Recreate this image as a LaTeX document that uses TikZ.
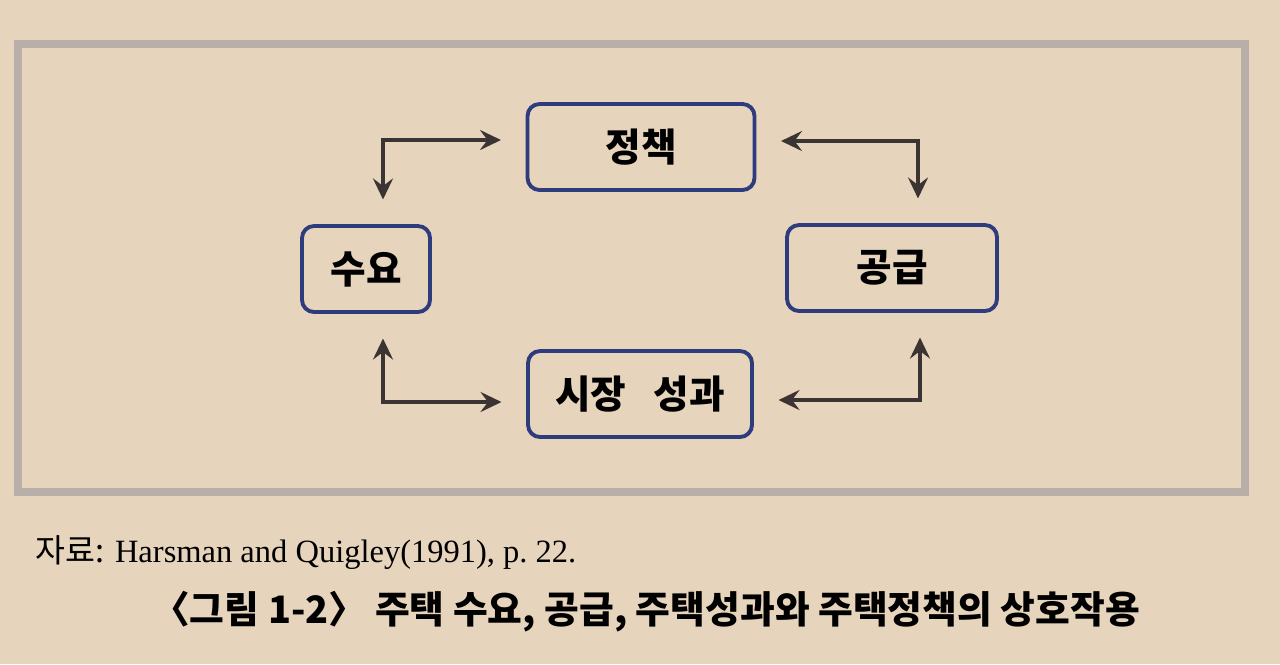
\documentclass[tikz,border=0pt]{standalone}
\usepackage{fontspec}
\setmainfont{Liberation Serif}
\newfontfamily\krsans{Noto Sans CJK KR}
\usetikzlibrary{calc,arrows.meta,positioning}
\definecolor{paper}{HTML}{E7D4BC}
\definecolor{framegray}{HTML}{B7AFA8}
\definecolor{boxblue}{HTML}{2E3C7E}
\definecolor{inkgray}{HTML}{3A3532}
\tikzset{
	% ------- every something
	every picture/.style={
		x=0.02cm, y=-0.02cm,
	},
	% ------- custom
	frame/.style={
		draw=framegray,
		line width=4.5pt,
	},
	factor/.style={
		draw=boxblue,
		line width=2.2pt,
		rounded corners=0.24cm,
		minimum height=1.72cm,
		inner sep=0pt,
		font=\krsans\bfseries\fontsize{22}{26}\selectfont,
		text=black,
	},
	link/.style={
		{Stealth[length=4.2mm,width=4mm,inset=1.5mm]}-{Stealth[length=4.2mm,width=4mm,inset=1.5mm]},
		draw=inkgray,
		line width=2pt,
		shorten <=14pt,
		shorten >=14pt,
	},
}

\begin{document}
\begin{tikzpicture}

% page %{{{1

	\useasboundingbox[fill=paper] (0,0) rectangle (1280,664);
	\draw[frame] (18,44) rectangle (1245,492);

% boxes %{{{1

	\node[factor, minimum width=4.54cm] (policy)  at (641,147) {정책};
	\node[factor, minimum width=2.56cm] (demand)  at (366,269) {수요};
	\node[factor, minimum width=4.20cm] (supply)  at (892,268) {공급};
	\node[factor, minimum width=4.48cm] (outcome) at (640,394) {시장\hspace{0.7em}성과};

% arrows %{{{1

	\draw[link] ($(demand.north)+(17,0)$)  |- ($(policy.west)+(0,-7)$);
	\draw[link] ($(policy.east)+(0,-6)$)   -| ($(supply.north)+(26,0)$);
	\draw[link] ($(demand.south)+(17,0)$)  |- ($(outcome.west)+(0,8)$);
	\draw[link] ($(outcome.east)+(0,6)$)   -| ($(supply.south)+(28,0)$);

% captions %{{{1

	\node[anchor=west, inner sep=0pt, font=\fontsize{18.5}{22}\selectfont] (source) at (35,553)
		{{\krsans 자료:} Harsman and Quigley(1991), p.~22.};
	\node[inner sep=0pt, font=\krsans\bfseries\fontsize{21.5}{26}\selectfont] (caption) at (646,612)
		{〈그림 1-2〉 주택 수요, 공급, 주택성과와 주택정책의 상호작용};

% closing %{{{1

\end{tikzpicture}
\end{document}
